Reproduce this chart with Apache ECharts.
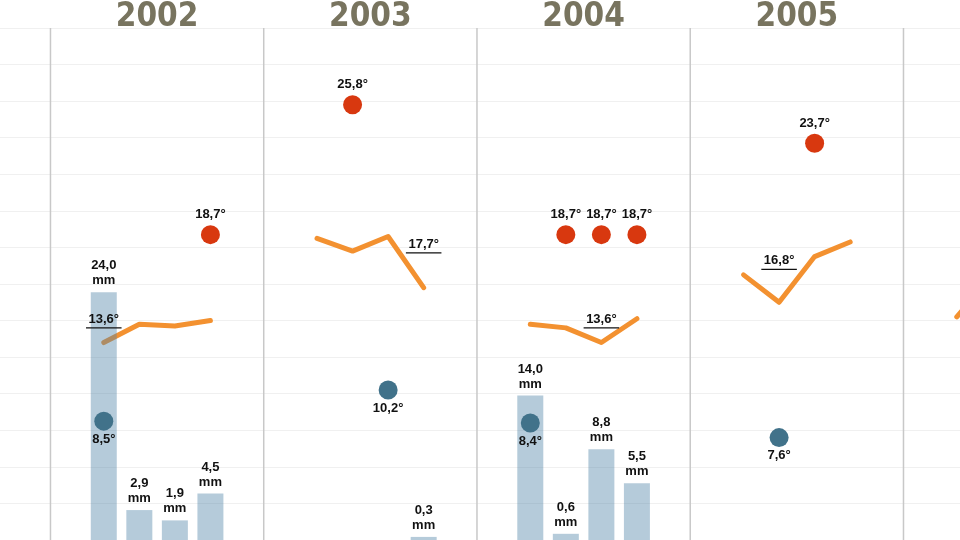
<!DOCTYPE html>
<html>
<head>
<meta charset="utf-8">
<script src="https://cdn.jsdelivr.net/npm/echarts@6/dist/echarts.min.js"></script>
<style>
	html, body {margin: 0; padding: 0; background: #fff;}
	#chart {width: 960px; height: 540px;}
</style>
</head>
<body>
<div id="chart"></div>
<script>
// years shown as columns (2001 and 2006 are only partly in the frame)
var years = ['2001', '2002', '2003', '2004', '2005', '2006']
// four measures per year, in slots 1..4 of each column
var rainMm = [
	[null, null, null, null],
	[24.0, 2.9, 1.9, 4.5],
	[null, null, null, 0.3],
	[14.0, 0.6, 8.8, 5.5],
	[null, null, null, null],
	[null, null, null, null]
]
var tempLine = [
	[null, null, null, null],
	[12.8, 13.8, 13.7, 14.0],
	[18.5, 17.8, 18.6, 15.8],
	[13.8, 13.6, 12.8, 14.1],
	[16.5, 15.0, 17.5, 18.3],
	[14.2, 16.5, null, null]
]
var tempMax = [
	[null, null, null, null],
	[null, null, null, 18.7],
	[null, 25.8, null, null],
	[null, 18.7, 18.7, 18.7],
	[null, null, 23.7, null],
	[null, null, null, null]
]
var tempMin = [
	[null, null, null, null],
	[8.5, null, null, null],
	[null, null, 10.2, null],
	[8.4, null, null, null],
	[null, 7.6, null, null],
	[null, null, null, null]
]
var tempAvg = [null, 13.6, 17.7, 13.6, 16.8, null]
var avgSlot = [null, 0, 3, 2, 1, null]

var SLOTS = 6
// visible window, in slot units (frame starts inside 2001, ends inside 2006)
var X_MIN = 4.58, X_MAX = 31.59
var T_MIN = 2, T_MAX = 30

function slotX(yi, k) { return yi * SLOTS + k + 1.5 }
function fmt(v) { return v.toFixed(1).replace('.', ',') }

var chart = echarts.init(document.getElementById('chart'))

var barData = [], maxData = [], minData = [], avgData = [], yearData = []
var series = []
for (var yi = 0; yi < years.length; yi++) {
	yearData.push([yi * SLOTS, yi])
	var lineData = []
	for (var k = 0; k < 4; k++) {
		if (rainMm[yi][k] != null) barData.push([slotX(yi, k), rainMm[yi][k]])
		if (tempMax[yi][k] != null) maxData.push([slotX(yi, k), tempMax[yi][k]])
		if (tempMin[yi][k] != null) minData.push([slotX(yi, k), tempMin[yi][k]])
		if (tempLine[yi][k] != null) lineData.push([slotX(yi, k), tempLine[yi][k]])
	}
	if (tempAvg[yi] != null) avgData.push([slotX(yi, avgSlot[yi]), tempAvg[yi]])
	if (lineData.length) {
		series.push({
			type: 'line',
			data: lineData,
			symbol: 'none',
			z: 2,
			clip: false,
			lineStyle: {color: '#f39130', width: 5, cap: 'round', join: 'round'},
			silent: true
		})
	}
}

// year separators and titles
series.push({
	type: 'custom',
	data: yearData,
	z: 1,
	silent: true,
	clip: false,
	renderItem: function (params, api) {
		var x = api.value(0), i = api.value(1)
		var top = api.coord([x, T_MAX]), bot = api.coord([x, T_MIN])
		var mid = api.coord([x + SLOTS / 2, T_MAX])
		return {
			type: 'group',
			children: [
				{type: 'line', shape: {x1: top[0], y1: top[1], x2: bot[0], y2: bot[1] + 2},
					style: {stroke: '#c8c8c8', lineWidth: 1.5}},
				{type: 'text', x: mid[0], y: mid[1] + 6, style: {
					text: years[i], textAlign: 'center', textVerticalAlign: 'bottom',
					fill: '#78745f', font: 'bold 33px "DejaVu Sans Condensed", "DejaVu Sans", sans-serif'
				}}
			]
		}
	}
})

series.push({
	type: 'bar',
	yAxisIndex: 1,
	data: barData,
	barWidth: 26,
	z: 3,
	itemStyle: {color: 'rgba(84,135,170,0.43)'},
	label: {
		show: true,
		position: 'top',
		distance: 4,
		color: '#111',
		fontWeight: 'bold',
		fontSize: 13,
		lineHeight: 15,
		fontFamily: 'Liberation Sans, Arial, sans-serif',
		formatter: function (p) { return fmt(p.value[1]) + '\nmm' }
	}
})

series.push({
	type: 'custom',
	data: avgData,
	z: 4,
	renderItem: function (params, api) {
		var x = api.value(0), v = api.value(1)
		var a = api.coord([x - 0.5, v]), b = api.coord([x + 0.5, v])
		return {
			type: 'group',
			children: [
				{type: 'line', shape: {x1: a[0], y1: a[1], x2: b[0], y2: b[1]}, style: {stroke: '#111', lineWidth: 1.2}},
				{type: 'text', x: (a[0] + b[0]) / 2, y: a[1] - 2, style: {
					text: fmt(v) + '°', textAlign: 'center', textVerticalAlign: 'bottom',
					fill: '#111', font: 'bold 13px "Liberation Sans", Arial, sans-serif'
				}}
			]
		}
	}
})

series.push({
	type: 'scatter',
	data: maxData,
	symbolSize: 19,
	z: 5,
	itemStyle: {color: '#d8380f', opacity: 1},
	label: {
		show: true, position: 'top', distance: 4,
		color: '#111', fontWeight: 'bold', fontSize: 13,
		fontFamily: 'Liberation Sans, Arial, sans-serif',
		formatter: function (p) { return fmt(p.value[1]) + '°' }
	}
})

series.push({
	type: 'scatter',
	data: minData,
	symbolSize: 19,
	z: 5,
	itemStyle: {color: '#41728a', opacity: 1},
	label: {
		show: true, position: 'bottom', distance: 2,
		color: '#111', fontWeight: 'bold', fontSize: 13,
		fontFamily: 'Liberation Sans, Arial, sans-serif',
		formatter: function (p) { return fmt(p.value[1]) + '°' }
	}
})

var option = {
	animation: false,
	grid: {left: 0, right: 0, top: 28, bottom: 0},
	xAxis: {
		type: 'value', min: X_MIN, max: X_MAX,
		show: false
	},
	yAxis: [
		{
			type: 'value', min: T_MIN, max: T_MAX, interval: 2,
			axisLine: {show: false}, axisTick: {show: false}, axisLabel: {show: false},
			splitLine: {show: true, lineStyle: {color: '#f0f0f0', width: 1}}
		},
		{
			type: 'value', min: 0, max: 49.6, show: false,
			splitLine: {show: false}
		}
	],
	series: series
}
chart.setOption(option)
</script>
</body>
</html>
